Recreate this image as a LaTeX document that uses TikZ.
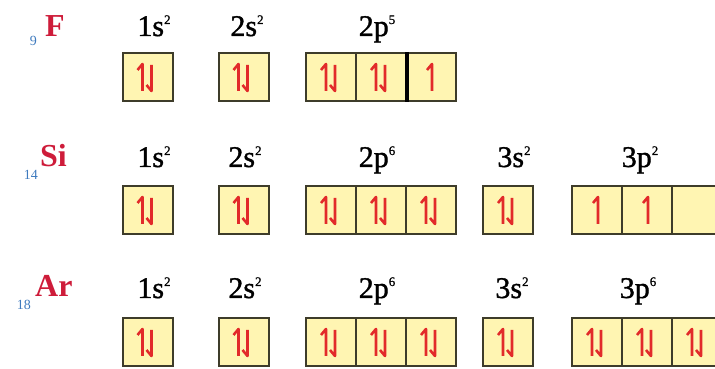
\documentclass[tikz,border=0pt]{standalone}
\usepackage{fontspec}
\setmainfont{Liberation Serif}
\newfontfamily\shellfont{Liberation Serif}[FakeBold=1.2]
\definecolor{orbfill}{RGB}{255,245,178}
\definecolor{orbline}{RGB}{62,60,42}
\definecolor{spinred}{RGB}{226,42,42}
\definecolor{elemred}{RGB}{206,28,58}
\definecolor{zblue}{RGB}{62,122,190}
\usepackage{tikz}
\tikzset{
  orb/.style={draw=orbline, fill=orbfill, line width=2pt, minimum width=50, minimum height=48, inner sep=0pt},
  spin/.style={draw=spinred, line width=2.6pt, line join=round},
  shell/.style={anchor=base, inner sep=0pt, font=\fontsize{30}{30}\shellfont},
  elem/.style={anchor=base west, inner sep=0pt, text=elemred, font=\fontsize{32}{32}\selectfont\bfseries},
  znum/.style={anchor=base east, inner sep=0pt, text=zblue, font=\fontsize{14}{14}\selectfont}
}
\newcommand{\shl}[2]{#1\raisebox{12pt}{\fontsize{13}{13}\selectfont #2}}
\newcommand{\pairspin}[1]{%
  \draw[spin] ([xshift=-5pt,yshift=-14pt]#1.center) -- ++(0,27) -- ++(-5,-6);
  \draw[spin] ([xshift=4pt,yshift=12pt]#1.center) -- ++(0,-26) -- ++(-5,6);}
\newcommand{\onespin}[1]{%
  \draw[spin] ([xshift=1pt,yshift=-14pt]#1.center) -- ++(0,27) -- ++(-5,-6);}

\begin{document}
\begin{tikzpicture}[x=1pt, y=1pt]
  \useasboundingbox (0,0) rectangle (715,369);

  %% Fluorine
  \node[elem] (fsym) at (45,332) {F};
  \node[znum] (fz) at (37,323) {9};
  \node[shell] (f1sh) at (154,333) {\shl{1s}{2}};
  \node[shell] (f2sh) at (247,333) {\shl{2s}{2}};
  \node[shell] (f2ph) at (377,333) {\shl{2p}{5}};
  \node[orb] (f1s) at (147.5,292) {};
  \node[orb] (f2s) at (243.5,292) {};
  \node[orb] (f2pa) at (331,292) {};
  \node[orb] (f2pb) at (381,292) {};
  \node[orb] (f2pc) at (431,292) {};
  \draw[line width=3.5pt] (f2pb.north east) -- (f2pb.south east);
  \pairspin{f1s} \pairspin{f2s}
  \pairspin{f2pa} \pairspin{f2pb} \onespin{f2pc}

  %% Silicon
  \node[elem] (sisym) at (40,202) {Si};
  \node[znum] (siz) at (38,189) {14};
  \node[shell] (si1sh) at (154,202) {\shl{1s}{2}};
  \node[shell] (si2sh) at (245,202) {\shl{2s}{2}};
  \node[shell] (si2ph) at (377,202) {\shl{2p}{6}};
  \node[shell] (si3sh) at (514,202) {\shl{3s}{2}};
  \node[shell] (si3ph) at (640,202) {\shl{3p}{2}};
  \node[orb] (si1s) at (147.5,159) {};
  \node[orb] (si2s) at (243.5,159) {};
  \node[orb] (si2pa) at (331,159) {};
  \node[orb] (si2pb) at (381,159) {};
  \node[orb] (si2pc) at (431,159) {};
  \node[orb] (si3s) at (508,159) {};
  \node[orb] (si3pa) at (597,159) {};
  \node[orb] (si3pb) at (647,159) {};
  \node[orb] (si3pc) at (697,159) {};
  \pairspin{si1s} \pairspin{si2s}
  \pairspin{si2pa} \pairspin{si2pb} \pairspin{si2pc}
  \pairspin{si3s}
  \onespin{si3pa} \onespin{si3pb}

  %% Argon
  \node[elem] (arsym) at (35,72) {Ar};
  \node[znum] (arz) at (31,59) {18};
  \node[shell] (ar1sh) at (154,71) {\shl{1s}{2}};
  \node[shell] (ar2sh) at (245,71) {\shl{2s}{2}};
  \node[shell] (ar2ph) at (377,71) {\shl{2p}{6}};
  \node[shell] (ar3sh) at (512,71) {\shl{3s}{2}};
  \node[shell] (ar3ph) at (638,71) {\shl{3p}{6}};
  \node[orb] (ar1s) at (147.5,27) {};
  \node[orb] (ar2s) at (243.5,27) {};
  \node[orb] (ar2pa) at (331,27) {};
  \node[orb] (ar2pb) at (381,27) {};
  \node[orb] (ar2pc) at (431,27) {};
  \node[orb] (ar3s) at (508,27) {};
  \node[orb] (ar3pa) at (597,27) {};
  \node[orb] (ar3pb) at (647,27) {};
  \node[orb] (ar3pc) at (697,27) {};
  \pairspin{ar1s} \pairspin{ar2s}
  \pairspin{ar2pa} \pairspin{ar2pb} \pairspin{ar2pc}
  \pairspin{ar3s}
  \pairspin{ar3pa} \pairspin{ar3pb} \pairspin{ar3pc}
\end{tikzpicture}
\end{document}
